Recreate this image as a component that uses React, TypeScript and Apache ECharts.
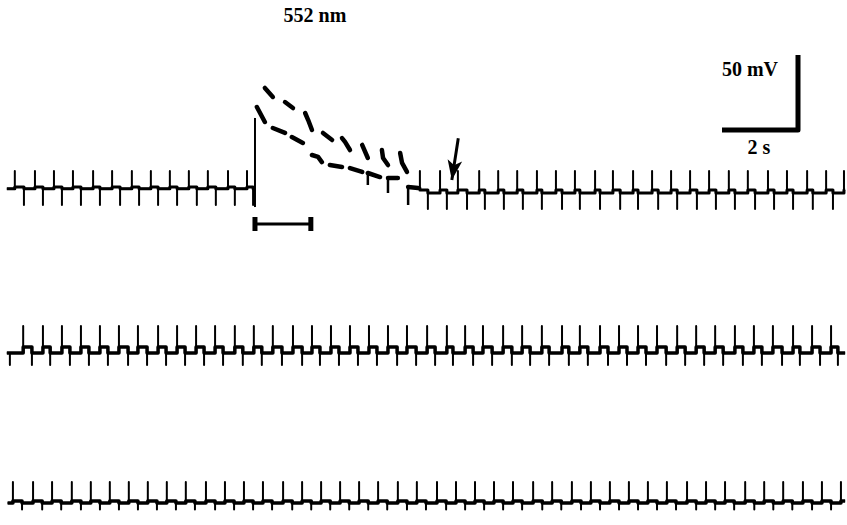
import React, { useEffect, useRef } from "react";
import * as echarts from "echarts";

// Axis extents (s, mV)
const X_MAX = 847 / 38;
const Y_MIN = -224.67;
const Y_MAX = 125.33;

// ---- Trace 1 (top): before light ----
const t1PreStart = 0.18;
const t1PreEnd = 6.71;
const t1PreUp = [0.39, 0.92, 1.42, 1.92, 2.45, 2.95, 3.47, 3.97, 4.47, 4.97, 5.47, 6.0, 6.5];
const t1PreDown = [0.63, 1.13, 1.63, 2.13, 2.63, 3.16, 3.66, 4.16, 4.66, 5.18, 5.68, 6.18, 6.66];
const t1PreLevels = { top: 11.3, bottom: -11.3, high: 0.7, low: -0.5 };

// light-on jump
const jumpT = 6.71;
const jumpFrom = -12.7;
const jumpTo = 46.7;

// depolarised period: spike tips (upper dashes) and baseline pieces (lower dashes)
const upperDashes = [
  [[6.97, 66.7], [7.18, 60.7]],
  [[7.5, 57.3], [7.71, 53.3]],
  [[8.03, 50], [8.11, 45.3], [8.21, 38.7]],
  [[8.5, 36.7], [8.74, 32]],
  [[9.0, 33.3], [9.08, 30.7], [9.21, 25.3]],
  [[9.53, 28.7], [9.68, 20]],
  [[10.05, 25.3], [10.08, 20], [10.21, 15.3]],
  [[10.53, 23.3], [10.58, 16.7], [10.71, 10.7]],
];
const lowerDashes = [
  [[6.76, 54], [6.97, 44]],
  [[7.18, 40], [7.5, 36.7]],
  [[7.68, 34], [7.97, 30]],
  [[8.21, 22], [8.37, 20.7], [8.47, 17.3]],
  [[8.68, 15.3], [9.0, 14]],
  [[9.21, 13.3], [9.53, 10.7]],
  [[9.68, 10], [10.0, 7.3]],
  [[10.21, 6.7], [10.47, 6.7]],
  [[10.74, 0.7], [11.0, 0]],
];
const dashTicks = [
  [[9.68, 2], [9.68, 10]],
  [[10.21, -3.3], [10.21, 6.7]],
  [[10.74, -11.3], [10.74, 0.7]],
];

// ---- Trace 1: after light ----
const t1PostStart = 11.0;
const t1PostEnd = 22.24;
const t1PostUp = [11.05, 11.58, 12.05, 12.61, 13.11, 13.61, 14.13, 14.63, 15.13, 15.66, 16.13, 16.66, 17.16, 17.66, 18.16, 18.66, 19.18, 19.68, 20.21, 20.71, 21.24, 21.74, 22.21];
const t1PostDown = [11.26, 11.76, 12.29, 12.76, 13.26, 13.76, 14.26, 14.79, 15.26, 15.79, 16.32, 16.79, 17.32, 17.82, 18.34, 18.84, 19.34, 19.87, 20.37, 20.87, 21.39, 21.92];
const t1PostLevels = { top: 11.3, bottom: -14, high: -1.3, low: -3.3 };

// ---- Trace 2 (middle) ----
const t2Offset = -108;
const t2Start = 0.18;
const t2End = 22.24;
const t2Up = [0.61, 1.13, 1.63, 2.13, 2.63, 3.13, 3.63, 4.16, 4.66, 5.16, 5.66, 6.18, 6.68, 7.18, 7.71, 8.21, 8.71, 9.21, 9.71, 10.21, 10.71, 11.24, 11.76, 12.24, 12.71, 13.24, 13.74, 14.26, 14.79, 15.26, 15.79, 16.29, 16.79, 17.29, 17.82, 18.32, 18.82, 19.34, 19.84, 20.34, 20.87, 21.37, 21.87];
const t2Down = [0.26, 0.84, 1.32, 1.84, 2.34, 2.84, 3.37, 3.87, 4.37, 4.87, 5.37, 5.87, 6.39, 6.89, 7.42, 7.95, 8.42, 8.92, 9.42, 9.92, 10.45, 10.95, 11.45, 11.92, 12.45, 12.95, 13.47, 13.95, 14.45, 14.97, 15.47, 16.0, 16.5, 17.0, 17.53, 18.03, 18.53, 19.03, 19.55, 20.05, 20.58, 21.05, 21.58, 22.05];
const t2Levels = { top: 16, bottom: -10, high: 2, low: -2 };

// ---- Trace 3 (bottom) ----
const t3Offset = -209.33;
const t3Start = 0.2;
const t3End = 22.24;
const t3Up = [0.34, 0.87, 1.37, 1.89, 2.39, 2.89, 3.39, 3.89, 4.39, 4.89, 5.42, 5.92, 6.42, 6.92, 7.45, 7.95, 8.45, 8.95, 9.45, 9.95, 10.47, 10.97, 11.5, 12.0, 12.5, 13.0, 13.5, 14.03, 14.53, 15.05, 15.55, 16.05, 16.55, 17.05, 17.55, 18.08, 18.58, 19.08, 19.61, 20.11, 20.61, 21.13, 21.63, 22.13];
const t3Down = [0.58, 1.11, 1.61, 2.13, 2.63, 3.13, 3.63, 4.13, 4.63, 5.13, 5.66, 6.16, 6.66, 7.16, 7.69, 8.19, 8.69, 9.19, 9.69, 10.19, 10.71, 11.21, 11.74, 12.24, 12.74, 13.24, 13.74, 14.27, 14.77, 15.29, 15.79, 16.29, 16.79, 17.29, 17.79, 18.32, 18.82, 19.32, 19.85, 20.35, 20.85, 21.37, 21.87];
const t3Levels = { top: 13.3, bottom: -5, high: 0.7, low: -0.7 };

// light bar, scale bar, arrow
const lightOn = 6.71;
const lightOff = 8.18;
const lightBarLevel = -24;
const lightCapTop = -19.3;
const lightCapBottom = -28.7;
const scaleT0 = 19.0;
const scaleT1 = 21.0;
const scaleV0 = 38.7;
const scaleV1 = 88.7;
const arrowFrom = [12.06, 33.1];
const arrowTo = [11.89, 5.3];

type Lv = { top: number; bottom: number; high: number; low: number };

function buildTrace(start: number, end: number, ups: number[], downs: number[], lv: Lv, off: number, startLevel: number) {
  const ev = [
    ...ups.map((t) => ({ t, k: "u" })),
    ...downs.map((t) => ({ t, k: "d" })),
  ].sort((a, b) => a.t - b.t);
  const spikes: any[] = [];
  const base: any[] = [];
  let cur = startLevel;
  spikes.push([start, cur + off]);
  base.push([start, cur + off]);
  for (const e of ev) {
    if (e.k === "u") {
      spikes.push([e.t, cur + off], [e.t, lv.top + off], [e.t, lv.high + off]);
      base.push([e.t, cur + off], [e.t, lv.high + off]);
      cur = lv.high;
    } else {
      spikes.push([e.t, cur + off], [e.t, lv.bottom + off], [e.t, lv.low + off]);
      base.push([e.t, cur + off], [e.t, lv.low + off]);
      cur = lv.low;
    }
  }
  spikes.push([end, cur + off]);
  base.push([end, cur + off]);
  return { spikes, base };
}

function joinSegments(segs: number[][][]) {
  const out: any[] = [];
  segs.forEach((s, i) => {
    if (i > 0) out.push([s[0][0], null]);
    s.forEach((p) => out.push(p));
  });
  return out;
}

function lineSeries(data: any[], width: number, cap = "butt") {
  return {
    type: "line",
    data,
    showSymbol: false,
    symbol: "none",
    silent: true,
    connectNulls: false,
    lineStyle: { color: "#000", width, cap, join: "round" },
  };
}

export default function App() {
  const ref = useRef<HTMLDivElement>(null);
  useEffect(() => {
    if (!ref.current) return;
    const chart = echarts.init(ref.current, undefined, { renderer: "svg" });
    const pre = buildTrace(t1PreStart, t1PreEnd, t1PreUp, t1PreDown, t1PreLevels, 0, t1PreLevels.low);
    const post = buildTrace(t1PostStart, t1PostEnd, t1PostUp, t1PostDown, t1PostLevels, 0, 0);
    const tr2 = buildTrace(t2Start, t2End, t2Up, t2Down, t2Levels, t2Offset, t2Levels.low);
    const tr3 = buildTrace(t3Start, t3End, t3Up, t3Down, t3Levels, t3Offset, t3Levels.low);

    const font = '"Liberation Serif", "Times New Roman", serif';
    const txt = (text: string, x: number, y: number) => ({
      type: "text",
      x,
      y,
      silent: true,
      style: {
        text,
        fontSize: 20,
        fontWeight: "bold",
        fontFamily: font,
        fill: "#000",
        textAlign: "center",
        textVerticalAlign: "middle",
        align: "center",
        verticalAlign: "middle",
      },
    });

    chart.setOption({
      animation: false,
      backgroundColor: "#fff",
      grid: { left: 0, right: 0, top: 0, bottom: 0, containLabel: false },
      xAxis: { type: "value", min: 0, max: X_MAX, show: false },
      yAxis: { type: "value", min: Y_MIN, max: Y_MAX, show: false },
      graphic: [txt("552 nm", 315, 15), txt("50 mV", 750, 69), txt("2 s", 759, 147)],
      series: [
        lineSeries(pre.spikes, 2),
        lineSeries(pre.base, 3),
        lineSeries([[jumpT, jumpFrom], [jumpT, jumpTo]], 2),
        lineSeries(joinSegments(upperDashes as any), 4.5, "round"),
        lineSeries(joinSegments(lowerDashes as any), 4.5, "round"),
        lineSeries(joinSegments(dashTicks as any), 2.5),
        lineSeries(post.spikes, 2),
        lineSeries(post.base, 3),
        lineSeries(tr2.spikes, 2),
        lineSeries(tr2.base, 3.5),
        lineSeries(tr3.spikes, 2),
        lineSeries(tr3.base, 3.5),
        lineSeries([[lightOn, lightBarLevel], [lightOff, lightBarLevel]], 3),
        lineSeries([[lightOn, lightCapTop], [lightOn, lightCapBottom], [lightOn, null], [lightOff, lightCapTop], [lightOff, lightCapBottom]], 5),
        lineSeries([[scaleT0, scaleV0], [scaleT1, scaleV0], [scaleT1, scaleV1]], 5),
        {
          type: "line",
          data: [],
          silent: true,
          markLine: {
            silent: true,
            animation: false,
            symbol: ["none", "arrow"],
            symbolSize: [11, 20],
            label: { show: false },
            lineStyle: { color: "#000", width: 3, type: "solid" },
            data: [[{ coord: arrowFrom }, { coord: arrowTo }]],
          },
        },
      ],
    });
    return () => chart.dispose();
  }, []);
  return (
    <div
      ref={ref}
      style={{ position: "fixed", left: 0, top: 0, width: 847, height: 525, background: "#fff" }}
    />
  );
}
